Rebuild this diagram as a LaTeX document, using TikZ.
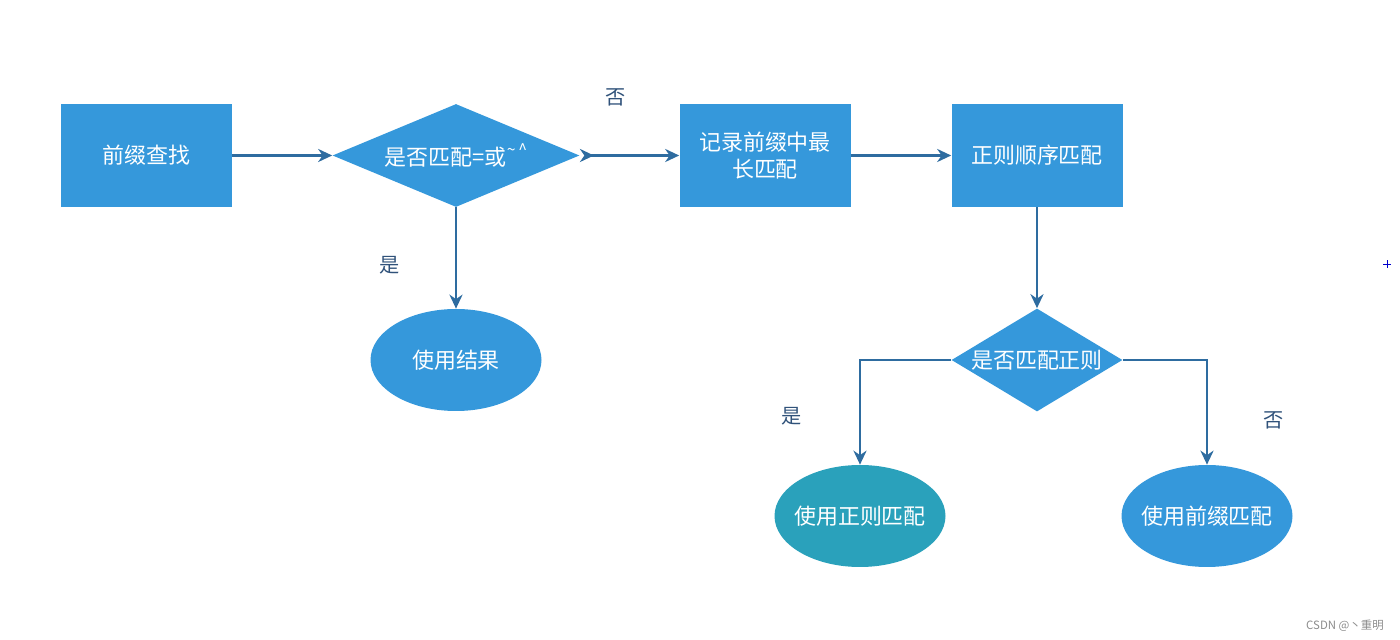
\documentclass[tikz,border=0pt]{standalone}
\usepackage{fontspec}
\setmainfont{Noto Sans CJK SC}
\usepackage{tikz}
\usetikzlibrary{shapes,arrows.meta,positioning}
\definecolor{boxblue}{RGB}{53,152,219}
\definecolor{tealfill}{RGB}{42,161,187}
\definecolor{linkblue}{RGB}{46,108,160}
\definecolor{lblblue}{RGB}{48,82,122}

\begin{document}
\begin{tikzpicture}[node distance=3cm, on grid,
    boxtxt/.style={font=\fontsize{12.5}{15.5}\selectfont, text=white},
    process/.style={rectangle, fill=boxblue, boxtxt, minimum width=3.42cm, minimum height=2.06cm, align=center, inner sep=0pt},
    decision/.style={diamond, fill=boxblue, boxtxt, minimum height=2.06cm, inner sep=0pt},
    result/.style={ellipse, fill=boxblue, boxtxt, minimum width=3.42cm, minimum height=2.04cm, inner sep=0pt},
    lbl/.style={font=\fontsize{11.5}{14}\selectfont, text=lblblue},
    arrow/.style={-{Stealth[length=8pt,width=7.5pt]}, line width=1.2pt, draw=linkblue}]

    \useasboundingbox (0,0) rectangle (28,-12.8);

    \node[process] (find) at (2.93,-3.11) {前缀查找};
    \node[decision, minimum width=4.94cm, right=6.19cm of find] (match) {\makebox[0pt]{是否匹配=或\raisebox{0.45em}{\small\textasciitilde\,\textasciicircum}}};
    \node[process, right=6.18cm of match] (record) {记录前缀中最\\长匹配};
    \node[process, right=5.44cm of record] (regex) {正则顺序匹配};
    \node[result, below=4.09cm of match] (useres) {使用结果};
    \node[decision, minimum width=3.42cm, below=4.09cm of regex] (matchre) {\makebox[0pt]{是否匹配正则}};
    \node[result, fill=tealfill, below left=3.12cm and 3.54cm of matchre] (usere) {\makebox[0pt]{使用正则匹配}};
    \node[result, below right=3.12cm and 3.40cm of matchre] (usepre) {\makebox[0pt]{使用前缀匹配}};

    \draw[arrow] (find) -- (match);
    \draw[arrow, {Stealth[length=8pt,width=7.5pt,reversed]}-{Stealth[length=8pt,width=7.5pt]}] (match) -- node[lbl, pos=0.36, yshift=1.16cm] {否} (record);
    \draw[arrow] (record) -- (regex);
    \draw[arrow] (match) -- node[lbl, pos=0.57, xshift=-1.32cm] {是} (useres);
    \draw[arrow] (regex) -- (matchre);
    \draw[arrow] (matchre.west) -| node[lbl, pos=0.77, xshift=-1.36cm] {是} (usere.north);
    \draw[arrow] (matchre.east) -| node[lbl, pos=0.79, xshift=1.34cm] {否} (usepre.north);

    \node[font=\fontsize{6.5}{8}\selectfont, text=black!45] (mark) at (26.9,-12.52) {CSDN @丶重明};
    \draw[blue!80!black, line width=0.5pt] (27.74,-5.28) +(-0.08,0) -- +(0.08,0) +(0,-0.08) -- +(0,0.08);
\end{tikzpicture}
\end{document}
